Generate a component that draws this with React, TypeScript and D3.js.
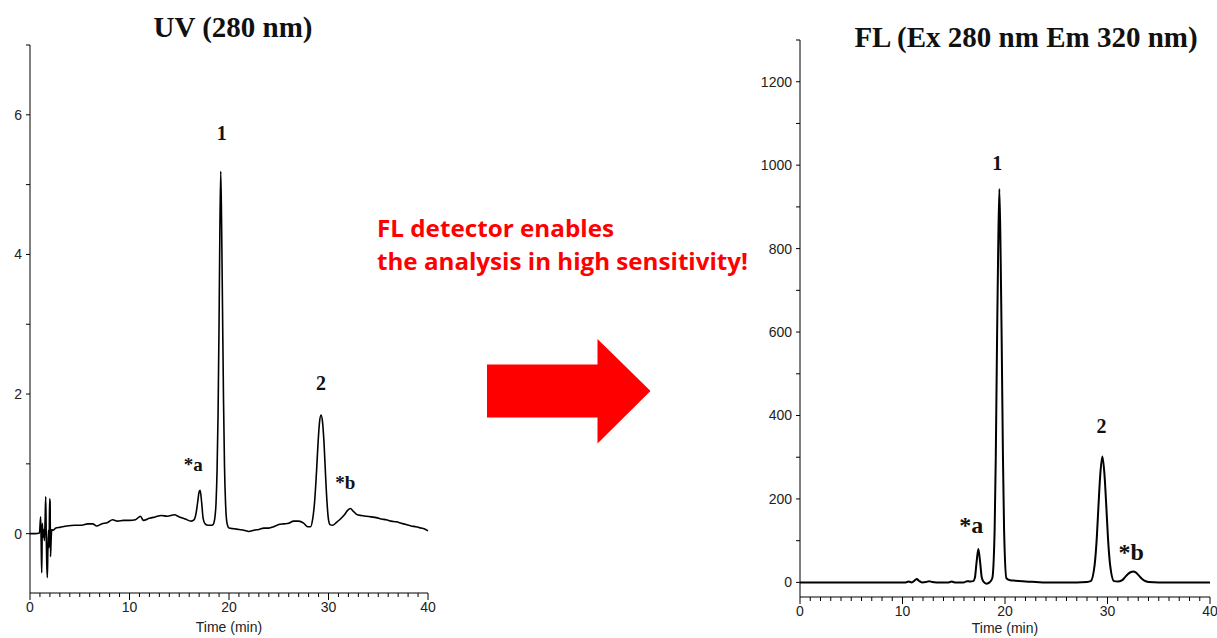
import React from "react";
import * as d3 from "d3";

// ---- Data (time in min, response) ----
const uvTime: number[] = [0, 0.5, 0.95, 1.07, 1.12, 1.18, 1.24, 1.3, 1.38, 1.45, 1.52, 1.58, 1.63, 1.68, 1.74, 1.8, 1.86, 1.92, 1.97, 2.02, 2.06, 2.12, 2.18, 2.3, 2.6, 3.0, 3.7, 4.5, 5.2, 5.8, 6.3, 6.7, 7.2, 7.8, 8.3, 8.8, 9.4, 10, 10.6, 11.1, 11.4, 12, 12.6, 13.2, 13.8, 14.5, 15, 15.6, 16.2, 16.5, 16.7, 16.85, 17.0, 17.1, 17.25, 17.4, 17.6, 17.9, 18.2, 18.4, 18.55, 18.7, 18.8, 18.9, 19.0, 19.08, 19.17, 19.26, 19.35, 19.45, 19.55, 19.65, 19.8, 20.0, 20.5, 21.0, 21.5, 22.0, 22.5, 23.0, 23.5, 24.0, 24.5, 25.0, 25.5, 26.0, 26.5, 27.0, 27.5, 27.9, 28.2, 28.4, 28.6, 28.8, 28.95, 29.1, 29.25, 29.4, 29.55, 29.7, 29.85, 30.0, 30.15, 30.4, 30.8, 31.2, 31.6, 31.9, 32.2, 32.5, 32.9, 33.3, 33.8, 34.3, 34.8, 35.3, 35.8, 36.3, 36.8, 37.3, 37.8, 38.3, 38.8, 39.3, 39.6, 40];
const uvValue: number[] = [0, 0, 0.01, 0.24, -0.1, -0.56, 0.15, -0.05, 0.06, -0.1, 0.2, 0.53, 0.0, -0.4, -0.63, -0.2, 0.05, -0.2, 0.5, 0.45, -0.33, -0.1, 0.06, 0.05, 0.08, 0.09, 0.11, 0.12, 0.12, 0.14, 0.14, 0.11, 0.14, 0.16, 0.2, 0.18, 0.19, 0.19, 0.2, 0.25, 0.19, 0.22, 0.24, 0.26, 0.25, 0.27, 0.24, 0.21, 0.18, 0.2, 0.3, 0.45, 0.6, 0.62, 0.45, 0.22, 0.14, 0.12, 0.12, 0.13, 0.2, 0.45, 0.9, 1.7, 3.0, 4.3, 5.19, 4.4, 3.2, 1.9, 0.95, 0.45, 0.15, 0.08, 0.07, 0.06, 0.05, 0.03, 0.05, 0.06, 0.08, 0.08, 0.1, 0.13, 0.14, 0.15, 0.18, 0.18, 0.15, 0.1, 0.1, 0.2, 0.45, 0.9, 1.3, 1.6, 1.7, 1.6, 1.3, 0.85, 0.45, 0.2, 0.13, 0.12, 0.16, 0.21, 0.27, 0.33, 0.36, 0.32, 0.27, 0.26, 0.25, 0.24, 0.23, 0.21, 0.2, 0.18, 0.17, 0.15, 0.13, 0.11, 0.1, 0.08, 0.07, 0.04];

const flTime: number[] = [0, 10.3, 10.6, 10.9, 11.2, 11.4, 11.6, 11.9, 12.3, 12.6, 12.9, 13.3, 14.5, 14.8, 15.1, 16.0, 16.3, 16.6, 16.9, 17.06, 17.23, 17.4, 17.57, 17.74, 17.9, 18.2, 18.5, 18.76, 18.99, 19.1, 19.22, 19.33, 19.45, 19.57, 19.68, 19.8, 19.91, 20.14, 20.5, 21, 22, 23, 24, 27, 28.0, 28.36, 28.74, 28.95, 29.12, 29.3, 29.5, 29.7, 29.88, 30.05, 30.26, 30.64, 31.0, 31.4, 31.7, 32.0, 32.3, 32.5, 32.75, 33.0, 33.3, 33.6, 34.0, 35, 40];
const flValue: number[] = [0, 0, 2, 0, 5, 8, 4, 0, 1, 3, 1, 0, 0, 2, 0, 0, 3, 2, 3, 11, 49, 80, 49, 11, 2, -3, 0, 10, 127, 300, 572, 790, 943, 790, 572, 300, 127, 10, 5, 4, 2, 1, 0, 0, 1, 3, 41, 105, 184, 260, 302, 260, 184, 105, 41, 3, 2, 5, 12, 20, 25, 26, 24, 18, 10, 4, 1, 0, 0];

const xTicks: number[] = [0, 10, 20, 30, 40];
const uvYTicks: number[] = [0, 2, 4, 6];
const flYTicks: number[] = [0, 200, 400, 600, 800, 1000, 1200];

const uvLabels = [
  { text: "1", t: 19.17, v: 5.19 },
  { text: "2", t: 29.25, v: 1.7 },
  { text: "*a", t: 17.1, v: 0.62 },
  { text: "*b", t: 32.2, v: 0.36 },
];
const flLabels = [
  { text: "1", t: 19.45, v: 943 },
  { text: "2", t: 29.5, v: 302 },
  { text: "*a", t: 17.4, v: 80 },
  { text: "*b", t: 32.5, v: 26 },
];

const noteLines: string[] = ["FL detector enables", "the analysis in high sensitivity!"];

type PanelProps = {
  time: number[];
  value: number[];
  xRange: [number, number];
  yDomain: [number, number];
  yRange: [number, number];
  yTicks: number[];
  yMinorStep: number;
  stroke: number;
  title: string;
  titleX: number;
  titleY: number;
  labels: { text: string; t: number; v: number }[];
  labelOffsets: { dx: number; dy: number; size: number }[];
  xTitleY: number;
};

function Panel(p: PanelProps) {
  const x = d3.scaleLinear().domain([0, 40]).range(p.xRange);
  const y = d3.scaleLinear().domain(p.yDomain).range(p.yRange);
  const pts = p.time.map((t, i) => [t, p.value[i]] as [number, number]);
  const line = d3
    .line<[number, number]>()
    .x((d) => x(d[0]))
    .y((d) => y(d[1]))
    .curve(d3.curveMonotoneX);
  const x0 = p.xRange[0];
  const yBottom = p.yRange[0];
  const yTop = p.yRange[1];
  const minorX = d3.range(0, 41, 1).filter((v) => v % 10 !== 0);
  const minorY = d3
    .range(Math.ceil(p.yDomain[0] / p.yMinorStep) * p.yMinorStep, p.yDomain[1] + 1e-9, p.yMinorStep)
    .filter((v) => !p.yTicks.some((t) => Math.abs(t - v) < 1e-9));
  const tickFont = "'Liberation Sans', Arial, sans-serif";
  return (
    <g>
      <line x1={x0} x2={x0} y1={yTop} y2={yBottom} stroke="#000" strokeWidth={1} />
      <line x1={p.xRange[0]} x2={p.xRange[1]} y1={yBottom} y2={yBottom} stroke="#000" strokeWidth={1} />
      {p.yTicks.map((t) => (
        <g key={"yt" + t}>
          <line x1={x0 - 4} x2={x0} y1={y(t)} y2={y(t)} stroke="#000" />
          <text x={x0 - 8} y={y(t)} dy="0.35em" textAnchor="end" fontFamily={tickFont} fontSize={14} fill="#222">
            {t}
          </text>
        </g>
      ))}
      {minorY.map((t) => (
        <line key={"ym" + t} x1={x0 - 4} x2={x0} y1={y(t)} y2={y(t)} stroke="#000" />
      ))}
      {xTicks.map((t) => (
        <g key={"xt" + t}>
          <line x1={x(t)} x2={x(t)} y1={yBottom} y2={yBottom + 7} stroke="#000" />
          <text x={x(t)} y={yBottom + 19} textAnchor="middle" fontFamily={tickFont} fontSize={14} fill="#222">
            {t}
          </text>
        </g>
      ))}
      {minorX.map((t) => (
        <line key={"xm" + t} x1={x(t)} x2={x(t)} y1={yBottom} y2={yBottom + 4} stroke="#000" />
      ))}
      <text x={x(20)} y={p.xTitleY} textAnchor="middle" fontFamily={tickFont} fontSize={14} fill="#222">
        Time (min)
      </text>
      <path d={line(pts) ?? ""} fill="none" stroke="#000" strokeWidth={p.stroke} strokeLinejoin="round" />
      {p.labels.map((l, i) => (
        <text
          key={"lb" + i}
          x={x(l.t) + p.labelOffsets[i].dx}
          y={y(l.v) + p.labelOffsets[i].dy}
          textAnchor="middle"
          fontFamily="'Liberation Serif', 'Times New Roman', serif"
          fontWeight="bold"
          fontSize={p.labelOffsets[i].size}
          fill="#111"
        >
          {l.text}
        </text>
      ))}
      <text
        x={p.titleX}
        y={p.titleY}
        textAnchor="middle"
        fontFamily="'Liberation Serif', 'Times New Roman', serif"
        fontWeight="bold"
        fontSize={29}
        fill="#111"
      >
        {p.title}
      </text>
    </g>
  );
}

export default function App() {
  return (
    <svg
      width={1217}
      height={638}
      style={{ position: "absolute", left: 0, top: 0, background: "#fff" }}
    >
      <rect width={1217} height={638} fill="#fff" />
      <Panel
        time={uvTime}
        value={uvValue}
        xRange={[30, 428]}
        yDomain={[-0.85, 7]}
        yRange={[593, 45]}
        yTicks={uvYTicks}
        yMinorStep={1}
        stroke={1.6}
        title="UV (280 nm)"
        titleX={233}
        titleY={37}
        labels={uvLabels}
        labelOffsets={[
          { dx: 1, dy: -31, size: 20 },
          { dx: 0, dy: -25, size: 20 },
          { dx: -7, dy: -19, size: 19 },
          { dx: -5, dy: -20, size: 19 },
        ]}
        xTitleY={632}
      />
      <Panel
        time={flTime}
        value={flValue}
        xRange={[800, 1210]}
        yDomain={[-35, 1300]}
        yRange={[597, 40]}
        yTicks={flYTicks}
        yMinorStep={100}
        stroke={2}
        title="FL (Ex 280 nm Em 320 nm)"
        titleX={1026}
        titleY={47}
        labels={flLabels}
        labelOffsets={[
          { dx: -2, dy: -19, size: 20 },
          { dx: -1, dy: -23, size: 20 },
          { dx: -7, dy: -16, size: 24 },
          { dx: -2, dy: -12, size: 24 },
        ]}
        xTitleY={633}
      />
      <path
        d="M487,364.5 L597.5,364.5 L597.5,339 L650.5,391 L597.5,443.5 L597.5,417.5 L487,417.5 Z"
        fill="#ff0000"
      />
      <text
        x={377}
        y={237}
        fontFamily="'Open Sans', Lato, sans-serif"
        fontWeight="bold"
        fontSize={23}
        fill="#ff0000"
        textLength={237}
        lengthAdjust="spacingAndGlyphs"
      >
        {noteLines[0]}
      </text>
      <text
        x={377}
        y={270}
        fontFamily="'Open Sans', Lato, sans-serif"
        fontWeight="bold"
        fontSize={23}
        fill="#ff0000"
        textLength={371}
        lengthAdjust="spacingAndGlyphs"
      >
        {noteLines[1]}
      </text>
    </svg>
  );
}
